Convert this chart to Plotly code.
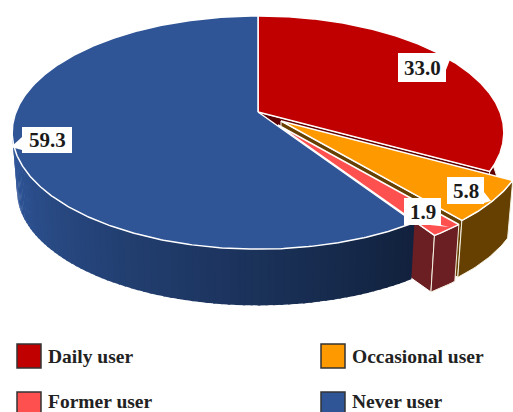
import numpy as np
import plotly.graph_objects as go

# chart values
labels = ["Daily user", "Occasional user", "Former user", "Never user"]
values = [33.0, 5.8, 1.9, 59.3]
top_colors = ["#c00000", "#ff9900", "#ff5050", "#2f5597"]
wall_colors = ["#600000", "#664000", "#6b1f22", "#2f5597"]
offsets = [(0, 0), (23, 9), (20, 13), (0, 0)]
legend_x = [17, 321, 17, 321]
legend_y = [356, 356, 404, 404]
legend_text_y = [356, 356, 401, 401]

# geometry of the tilted disc, pixels
CX, CY = 258, 112
A, B, P = 242, 113, 0.176
S, DROP = 0.98, 59

W, H = 513, 412
fig = go.Figure()


def top_xy(deg, r=1.0):
    t = np.radians(deg)
    u, v = r * np.sin(t), -r * np.cos(t)
    d = 1 - P * v
    return CX + A * u / d, CY + B * v / d


def low_xy(x, y):
    return CX + (x - CX) * S, CY + (y - CY) * S + DROP


def poly(x, y, fill, line="rgba(0,0,0,0)", width=0):
    fig.add_trace(go.Scatter(x=list(x), y=list(y), mode="lines", fill="toself", fillcolor=fill,
                             line=dict(color=line, width=width), hoverinfo="skip", showlegend=False))


def mix(c):
    return "rgb(%d,%d,%d)" % tuple(int(v) for v in c)


edges = np.cumsum([0] + values) * 3.6
spans = list(zip(edges[:-1], edges[1:]))


def wall(a0, a1, off, colour):
    ang = np.linspace(a0, a1, int(abs(a1 - a0)) + 2)
    x, y = top_xy(ang)
    x, y = x + off[0], y + off[1]
    lx, ly = low_xy(x, y)
    poly(np.r_[x, lx[::-1], x[0]], np.r_[y, ly[::-1], y[0]], colour, "#f4f0e0", 1)


def radial(deg, off, colour):
    x, y = top_xy(deg)
    x0, y0 = CX + off[0], CY + off[1]
    x1, y1 = x + off[0], y + off[1]
    lx0, ly0 = low_xy(x0, y0)
    lx1, ly1 = low_xy(x1, y1)
    poly([x0, x1, lx1, lx0, x0], [y0, y1, ly1, ly0, y0], colour, "white", 1)


def top(a0, a1, off, colour, width=1.5):
    ang = np.linspace(a0, a1, int(a1 - a0) * 2 + 2)
    x, y = top_xy(ang)
    poly(np.r_[CX, x, CX] + off[0], np.r_[CY, y, CY] + off[1], colour, "white", width)


# daily user
radial(spans[0][1], offsets[0], wall_colors[0])
wall(spans[0][0] + 75, spans[0][1], offsets[0], wall_colors[0])
top(*spans[0], offsets[0], top_colors[0])
# occasional user
radial(spans[1][1], offsets[1], wall_colors[1])
wall(*spans[1], offsets[1], wall_colors[1])
top(*spans[1], offsets[1], top_colors[1])
# former user
radial(spans[2][1], offsets[2], wall_colors[2])
wall(*spans[2], offsets[2], wall_colors[2])
top(*spans[2], offsets[2], top_colors[2])
# never user, wall shaded from dark navy to mid blue
never_start, never_end = spans[3]
dark, mid = (18, 34, 62), (47, 85, 151)
for a in np.arange(never_start, 282, 1.5):
    k = min(1, (a - never_start) / 105)
    c = tuple(dark[i] + (mid[i] - dark[i]) * k for i in range(3))
    ang = np.array([a, a + 2.0])
    x, y = top_xy(ang)
    lx, ly = low_xy(x, y)
    poly(np.r_[x, lx[::-1]], np.r_[y, ly[::-1]], mix(c))
top(never_start, never_end, offsets[3], top_colors[3])

# data labels: white box with a small pointer
boxes = [(398, 53, 446, 82), (447, 177, 484, 204), (404, 198, 441, 225), (22, 127, 72, 153)]
tips = [(451, 57), (491, 201), (449, 227), (11, 147)]
bases = [((446, 58), (446, 70)), ((484, 192), (484, 203)), ((430, 225), (441, 225)), ((22, 137), (22, 150))]
for v, (x0, y0, x1, y1), tip, (b0, b1) in zip(values, boxes, tips, bases):
    fig.add_shape(type="rect", x0=x0, x1=x1, y0=y0, y1=y1, fillcolor="white", line_width=0)
    fig.add_shape(type="path", path="M %d %d L %d %d L %d %d Z" % (b0 + tip + b1), fillcolor="white", line_width=0)
    fig.add_annotation(x=(x0 + x1) / 2, y=(y0 + y1) / 2, text="<b>%.1f</b>" % v, showarrow=False,
                       font=dict(family="Liberation Serif", size=21, color="#1a1a1a"))

# legend drawn as swatches
for name, c, lx, ly, ty in zip(labels, top_colors, legend_x, legend_y, legend_text_y):
    fig.add_shape(type="rect", x0=lx, x1=lx + 24, y0=ly - 12, y1=ly + 12, fillcolor=c,
                  line=dict(color="#333333", width=1.5))
    fig.add_annotation(x=lx + 29, y=ty, text="<b>%s</b>" % name, showarrow=False, xanchor="left",
                       font=dict(family="Liberation Serif", size=19.5, color="#222222"))

fig.update_xaxes(range=[0, W], visible=False, fixedrange=True)
fig.update_yaxes(range=[H, 0], visible=False, fixedrange=True)
fig.update_layout(width=W, height=H, margin=dict(l=0, r=0, t=0, b=0), plot_bgcolor="white",
                  paper_bgcolor="white", showlegend=False)
fig.write_html("out.html", config=dict(displayModeBar=False),
               post_script="document.body.style.margin='0';document.body.style.overflow='hidden';")
